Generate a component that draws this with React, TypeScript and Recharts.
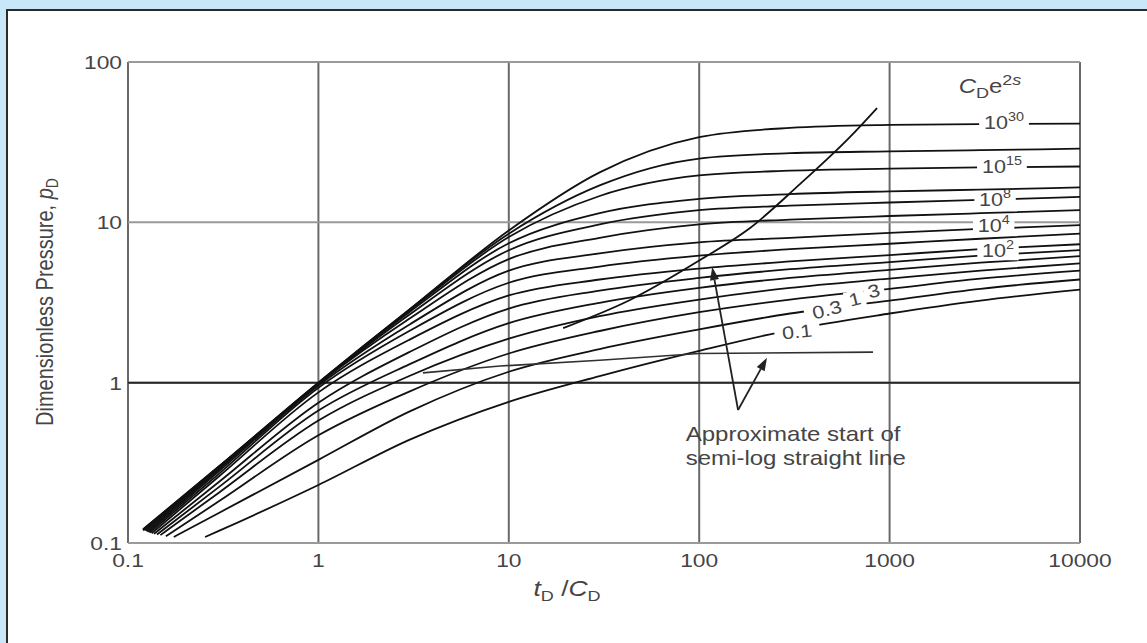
import React from 'react';
import { LineChart, Line, XAxis, YAxis, CartesianGrid, ReferenceLine, ReferenceDot } from 'recharts';

// tD/CD sample points shared by all type curves
const tGrid = [0.3, 1, 3, 10, 30, 100, 300, 1000, 3000, 10000];

// CDe2s values, top curve first
const cde2s = ['1e30', '1e20', '1e15', '1e10', '1e8', '1e6', '1e4', '1e3', '1e2', '30', '10', '3', '1', '0.3', '0.1'];

// where each curve starts (bottom-left)
const startT = [0.12, 0.12, 0.12, 0.122, 0.124, 0.126, 0.128, 0.13, 0.133, 0.137, 0.142, 0.148, 0.158, 0.174, 0.254];
const startP = [0.122, 0.121, 0.12, 0.12, 0.119, 0.118, 0.117, 0.116, 0.115, 0.114, 0.113, 0.112, 0.11, 0.109, 0.109];

// pD read at tGrid
const pD_1e30 = [0.3, 1.0, 2.85, 8.9, 20.5, 34, 38.8, 40.5, 41, 41.3];
const pD_1e20 = [0.3, 1.0, 2.85, 8.5, 17.0, 25.0, 27.0, 27.7, 28.2, 28.8];
const pD_1e15 = [0.298, 0.99, 2.8, 8.1, 14.6, 19.6, 21.0, 21.6, 22.0, 22.3];
const pD_1e10 = [0.295, 0.99, 2.75, 7.4, 11.4, 14.0, 15.0, 15.6, 16.0, 16.5];
const pD_1e8 = [0.292, 0.98, 2.65, 6.7, 9.7, 11.9, 12.7, 13.3, 13.8, 14.4];
const pD_1e6 = [0.287, 0.98, 2.5, 5.9, 8.0, 9.7, 10.4, 10.95, 11.4, 11.9];
const pD_1e4 = [0.28, 0.96, 2.3, 5.0, 6.4, 7.5, 8.0, 8.6, 9.1, 9.6];
const pD_1e3 = [0.27, 0.93, 2.1, 4.2, 5.3, 6.2, 6.8, 7.35, 7.9, 8.5];
const pD_1e2 = [0.26, 0.87, 1.85, 3.5, 4.4, 5.15, 5.7, 6.25, 6.8, 7.3];
const pD_30 = [0.24, 0.75, 1.55, 2.9, 3.75, 4.5, 5.1, 5.65, 6.2, 6.7];
const pD_10 = [0.223, 0.67, 1.3, 2.35, 3.15, 3.9, 4.5, 5.05, 5.6, 6.15];
const pD_3 = [0.206, 0.58, 1.1, 1.88, 2.6, 3.3, 3.9, 4.45, 5.0, 5.55];
const pD_1 = [0.182, 0.47, 0.88, 1.52, 2.1, 2.75, 3.3, 3.85, 4.45, 5.0];
const pD_03 = [0.154, 0.33, 0.66, 1.17, 1.62, 2.15, 2.7, 3.25, 3.85, 4.4];
const pD_01 = [0.119, 0.23, 0.44, 0.76, 1.1, 1.58, 2.13, 2.7, 3.25, 3.8];

const pdCurves = [pD_1e30, pD_1e20, pD_1e15, pD_1e10, pD_1e8, pD_1e6, pD_1e4, pD_1e3, pD_1e2, pD_30, pD_10, pD_3, pD_1, pD_03, pD_01];

// "approximate start of semi-log straight line"
const semiT = [19.3, 43.3, 101, 185, 338, 620, 859];
const semiP = [2.19, 3.28, 5.82, 9.22, 17.3, 34.1, 51.6];

// short nearly flat line
const flatT = [3.54, 9, 30, 100, 818];
const flatP = [1.15, 1.27, 1.38, 1.52, 1.55];

// curve labels: text, superscript, position, tilt
const lblMain = ['10', '10', '10', '10', '10', '0.3', '1', '3', '0.1'];
const lblSup = ['30', '15', '8', '4', '2', '', '', '', ''];
const lblT = [3990, 3890, 3580, 3520, 3710, 469, 658, 828, 327];
const lblP = [41.6, 22.1, 13.8, 9.5, 6.6, 2.84, 3.3, 3.72, 2.07];
const lblRot = [0, 0, 0, 0, 0, -14, -14, -14, -6];

// arrows: from the note up to the two lines
const arrowBase = { t: 160, p: 0.675 };
const arrowTipsT = [117, 227];
const arrowTipsP = [5.26, 1.43];

const xTicks = [0.1, 1, 10, 100, 1000, 10000];
const yTicks = [0.1, 1, 10, 100];

const FONT = '"Liberation Sans", Arial, Helvetica, sans-serif';
const TXT = '#454545';
const SX = 1.2;

const XTick = (props: any) => {
  const { x, y, payload } = props;
  return (
    <text transform={`translate(${x},${y + 24}) scale(${SX},1)`} textAnchor="middle"
      fontSize={19} fontFamily={FONT} fill={TXT}>{String(payload.value)}</text>
  );
};

const YTick = (props: any) => {
  const { x, y, payload } = props;
  return (
    <text transform={`translate(${x - 6},${y + 7}) scale(${SX},1)`} textAnchor="end"
      fontSize={19} fontFamily={FONT} fill={TXT}>{String(payload.value)}</text>
  );
};

const curveLabel = (main: string, sup: string, rot: number) => (props: any) => {
  const { cx, cy } = props;
  const w = (main.length * 0.58 * 18 + sup.length * 0.58 * 12) * SX + 8;
  return (
    <g transform={`translate(${cx},${cy}) rotate(${rot})`}>
      <rect x={-w / 2} y={-9} width={w} height={18} fill="#fff" />
      <text transform={`scale(${SX},1)`} textAnchor="middle" y={6} fontSize={18} fontFamily={FONT} fill={TXT}>
        {main}
        {sup ? <tspan dy={-8} fontSize={12}>{sup}</tspan> : null}
      </text>
    </g>
  );
};

const noteShape = (props: any) => {
  const { cx, cy } = props;
  return (
    <g transform={`translate(${cx},${cy}) scale(${SX},1)`} fontSize={20} fontFamily={FONT} fill={TXT}>
      <text x={0} y={-5}>Approximate start of</text>
      <text x={0} y={19}>semi-log straight line</text>
    </g>
  );
};

const arrowShape = (props: any) => {
  const { x1, y1, x2, y2 } = props;
  const a = Math.atan2(y2 - y1, x2 - x1);
  const L = 13;
  const hw = 4.5;
  const bx = x2 - L * Math.cos(a);
  const by = y2 - L * Math.sin(a);
  const px = -Math.sin(a) * hw;
  const py = Math.cos(a) * hw;
  return (
    <g>
      <line x1={x1} y1={y1} x2={bx} y2={by} stroke="#222" strokeWidth={1.8} />
      <polygon points={`${x2},${y2} ${bx + px},${by + py} ${bx - px},${by - py}`} fill="#222" />
    </g>
  );
};

export default function App() {
  const series = pdCurves.map((vals, i) => [
    { t: startT[i], p: startP[i] },
    ...tGrid.map((t, j) => ({ t, p: vals[j] })),
  ]);
  const semi = semiT.map((t, i) => ({ t, p: semiP[i] }));
  const flat = flatT.map((t, i) => ({ t, p: flatP[i] }));

  return (
    <div style={{ position: 'fixed', inset: 0, overflow: 'hidden', background: '#c8e7f8' }}>
      <div style={{ position: 'absolute', left: 6, top: 9, width: 1200, height: 700, background: '#fff', border: '2px solid #2b2b2b' }} />
      <div style={{ position: 'absolute', left: 0, top: 0 }}>
        <LineChart width={1147} height={643} margin={{ top: 62, right: 67, left: 68, bottom: 60 }}>
          <CartesianGrid horizontal={false} stroke="#6a6a6a" strokeWidth={2} />
          <CartesianGrid vertical={false} stroke="#9a9a9a" strokeWidth={2} />
          <XAxis dataKey="t" type="number" scale="log" domain={[0.1, 10000]} ticks={xTicks}
            allowDataOverflow axisLine={false} tickLine={false} tickSize={0} tickMargin={0}
            height={40} tick={<XTick />} interval={0} />
          <YAxis type="number" scale="log" domain={[0.1, 100]} ticks={yTicks}
            allowDataOverflow axisLine={false} tickLine={false} tickSize={0} tickMargin={0}
            width={60} tick={<YTick />} interval={0} />
          <ReferenceLine y={1} stroke="#262626" strokeWidth={2} />
          {series.map((d, i) => (
            <Line key={cde2s[i]} data={d} dataKey="p" type="monotone" stroke="#111"
              strokeWidth={1.8} dot={false} isAnimationActive={false} />
          ))}
          <Line data={semi} dataKey="p" type="monotone" stroke="#111" strokeWidth={1.8}
            dot={false} isAnimationActive={false} />
          <Line data={flat} dataKey="p" type="linear" stroke="#303030" strokeWidth={1.7}
            dot={false} isAnimationActive={false} />
          {arrowTipsT.map((t, i) => (
            <ReferenceLine key={'arr' + i} segment={[{ x: arrowBase.t, y: arrowBase.p }, { x: t, y: arrowTipsP[i] }]}
              shape={arrowShape} />
          ))}
          {lblMain.map((m, i) => (
            <ReferenceDot key={'lbl' + i} x={lblT[i]} y={lblP[i]} r={1}
              shape={curveLabel(m, lblSup[i], lblRot[i])} />
          ))}
          <ReferenceDot x={85} y={0.4} r={1} shape={noteShape} />
        </LineChart>
      </div>
      <svg width={1147} height={643} style={{ position: 'absolute', left: 0, top: 0, pointerEvents: 'none' }}
        fontFamily={FONT} fill={TXT}>
        <text transform={`translate(53,302) scale(${SX},1) rotate(-90)`} textAnchor="middle" fontSize={20}>
          Dimensionless Pressure, <tspan fontStyle="italic">p</tspan><tspan dy={4} fontSize={14}>D</tspan>
        </text>
        <text transform={`translate(567,596) scale(${SX},1)`} textAnchor="middle" fontSize={22}>
          <tspan fontStyle="italic">t</tspan><tspan dy={5} fontSize={15}>D</tspan>
          <tspan dy={-5}> /</tspan><tspan fontStyle="italic">C</tspan><tspan dy={5} fontSize={15}>D</tspan>
        </text>
        <text transform={`translate(990,93) scale(${SX},1)`} textAnchor="middle" fontSize={20}>
          <tspan fontStyle="italic">C</tspan><tspan dy={5} fontSize={15}>D</tspan>
          <tspan dy={-5}>e</tspan><tspan dy={-8} fontSize={15}>2<tspan fontStyle="italic">s</tspan></tspan>
        </text>
      </svg>
    </div>
  );
}
